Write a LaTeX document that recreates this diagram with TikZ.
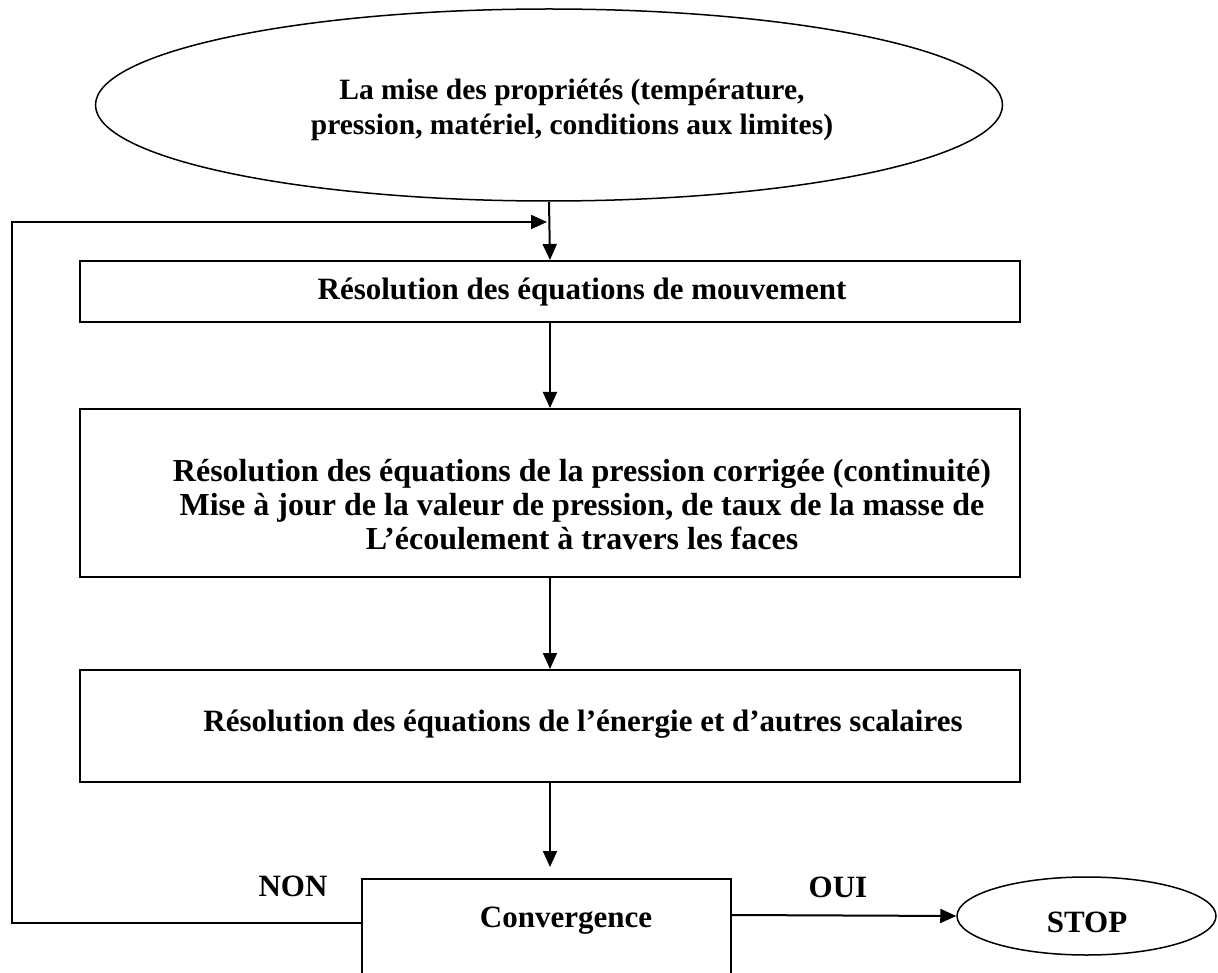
\documentclass[tikz,border=0pt]{standalone}
\usepackage{fontspec}
\setmainfont{Liberation Serif}
\usetikzlibrary{arrows.meta,shapes.geometric}
\begin{document}
\begin{tikzpicture}[x=1pt,y=-1pt,
  box/.style={draw, line width=2pt, rectangle, inner sep=0pt},
  oval/.style={draw, line width=1.5pt, ellipse, inner sep=0pt},
  txt/.style={font=\fontsize{31}{35}\selectfont\bfseries, align=center, inner sep=0pt},
  bigtxt/.style={font=\fontsize{32}{34}\selectfont\bfseries, align=center, inner sep=0pt},
  smalltxt/.style={font=\fontsize{29.5}{35}\selectfont\bfseries, align=center, inner sep=0pt},
  flow/.style={line width=2pt, -{Triangle[length=16pt,width=14pt]}}]
\clip (0,0) rectangle (1218,973);
% nodes
\node[oval, minimum width=907pt, minimum height=192pt] (props) at (549,105) {};
\node[smalltxt] (propstxt) at (572,110) {La mise des propriétés (température,\\pression, matériel, conditions aux limites)};
\node[box, minimum width=940pt, minimum height=61pt] (b1) at (550,291.5) {};
\node[txt] (t1) at (582,292) {Résolution des équations de mouvement};
\node[box, minimum width=940pt, minimum height=168pt] (b2) at (550,493) {};
\node[bigtxt] (t2) at (582,505) {Résolution des équations de la pression corrigée (continuité)\\Mise à jour de la valeur de pression, de taux de la masse de\\L’écoulement à travers les faces};
\node[box, minimum width=940pt, minimum height=112pt] (b3) at (550,726) {};
\node[txt] (t3) at (583,724) {Résolution des équations de l’énergie et d’autres scalaires};
\node[box, minimum width=369pt, minimum height=140pt, anchor=north] (conv) at (546.5,878) {};
\node[txt] (tc) at (566,921) {Convergence};
\node[oval, minimum width=259pt, minimum height=78pt] (stop) at (1086.5,916) {};
\node[txt] (ts) at (1087,922) {STOP};
\node[txt] (non) at (293,886) {NON};
\node[txt] (oui) at (838,887) {OUI};
% connectors
\coordinate (join) at (547,222);
\coordinate (loopB) at (12,923);
\coordinate (loopT) at (12,222);
\draw[flow] (props.south) -- (b1.north);
\draw[flow] (b1.south) -- (b2.north);
\draw[flow] (b2.south) -- (b3.north);
\draw[flow, shorten >=11pt] (b3.south) -- (b3.south |- conv.north);
\draw[flow] ([yshift=-45pt]conv.north west) -- (loopB) -- (loopT) -- (join);
\draw[flow] ([yshift=-37pt]conv.north east) -- (stop.west);
\end{tikzpicture}
\end{document}
